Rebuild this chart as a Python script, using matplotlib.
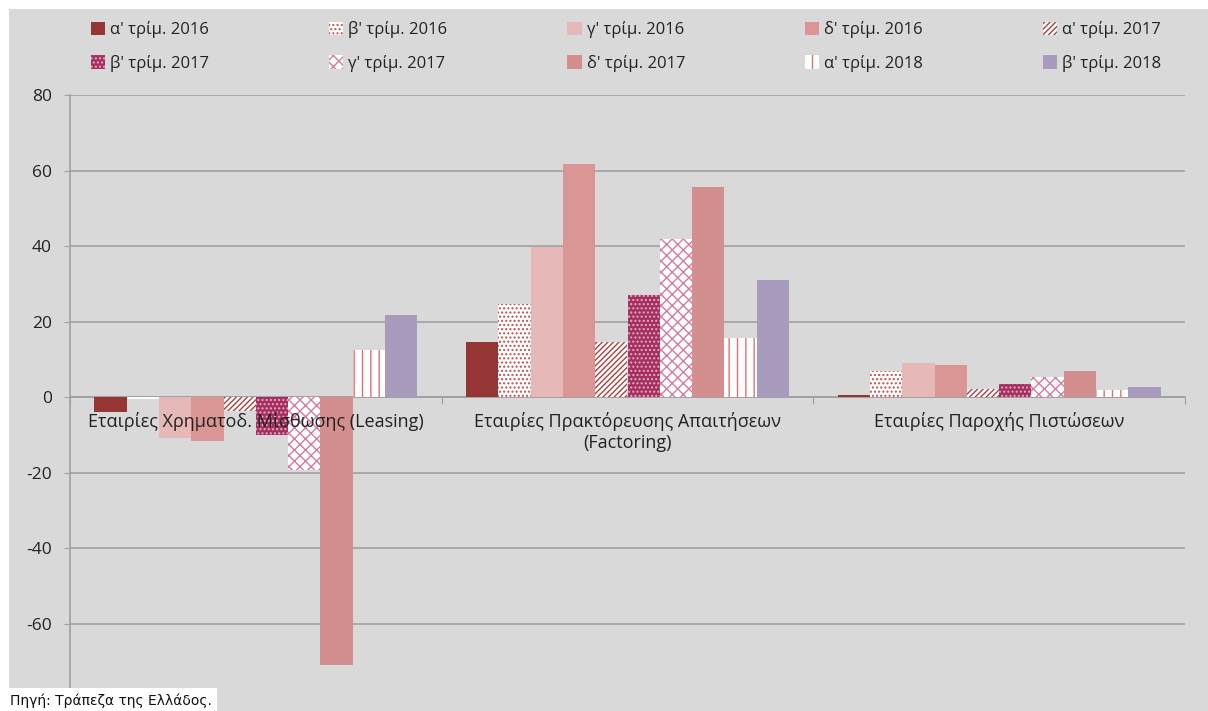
import matplotlib
matplotlib.use("Agg")
import matplotlib.pyplot as plt
from matplotlib.patches import Rectangle, Patch
import numpy as np

plt.rcParams['font.family'] = ['Open Sans', 'DejaVu Sans']
plt.rcParams['hatch.linewidth'] = 1.0

categories = ["Εταιρίες Χρηματοδ. Μίσθωσης (Leasing)",
              "Εταιρίες Πρακτόρευσης Απαιτήσεων\n(Factoring)",
              "Εταιρίες Παροχής Πιστώσεων"]

series_labels = ["α' τρίμ. 2016", "β' τρίμ. 2016", "γ' τρίμ. 2016", "δ' τρίμ. 2016",
                 "α' τρίμ. 2017", "β' τρίμ. 2017", "γ' τρίμ. 2017", "δ' τρίμ. 2017",
                 "α' τρίμ. 2018", "β' τρίμ. 2018"]

# values per series: [Leasing, Factoring, Credit]
q1_2016 = [-3.8, 14.5, 0.5]
q2_2016 = [-0.6, 24.6, 7.0]
q3_2016 = [-10.7, 39.8, 9.0]
q4_2016 = [-11.5, 61.7, 8.6]
q1_2017 = [-3.6, 14.5, 2.1]
q2_2017 = [-10.1, 27.0, 3.5]
q3_2017 = [-19.3, 41.8, 5.4]
q4_2017 = [-70.9, 55.7, 6.9]
q1_2018 = [12.4, 15.7, 2.0]
q2_2018 = [21.8, 31.1, 2.7]

series = [q1_2016, q2_2016, q3_2016, q4_2016, q1_2017,
          q2_2017, q3_2017, q4_2017, q1_2018, q2_2018]

yticks = [-60, -40, -20, 0, 20, 40, 60, 80]

# fill colour, hatch, hatch colour
styles = [
    ("#963634", None, None),
    ("#FFFFFF", "....", "#C0504D"),
    ("#E6B9B8", None, None),
    ("#DA9694", None, None),
    ("#FFFFFF", "//////", "#A8403E"),
    ("#A3305F", "....", "#E8A8C4"),
    ("#FFFFFF", "xxx", "#D27BA3"),
    ("#D38F8F", None, None),
    ("#FFFFFF", "||", "#E07070"),
    ("#A99BBD", None, None),
]

W, H = 1208, 711
fig = plt.figure(figsize=(W / 100, H / 100), dpi=100)
fig.patch.set_facecolor("white")
fig.add_artist(Rectangle((9 / W, 0), 1 - 9 / W, 1 - 9 / H, transform=fig.transFigure,
                         facecolor="#D9D9D9", edgecolor="none", zorder=0))

ax = fig.add_axes([70 / W, 1 - 690 / H, (1185 - 70) / W, (690 - 95) / H])
ax.set_facecolor("none")

n = len(series)
bar_w = 1.0 / (n + 1.5)
x = np.arange(len(categories))
handles = []
for i, (vals, (fc, hatch, hc), lab) in enumerate(zip(series, styles, series_labels)):
    pos = x - 0.5 + 0.75 * bar_w + (i + 0.5) * bar_w
    if hatch:
        ax.bar(pos, vals, width=bar_w, facecolor=fc, hatch=hatch, edgecolor=hc,
               linewidth=0, zorder=3)
        handles.append(Patch(facecolor=fc, hatch=hatch, edgecolor=hc, linewidth=0, label=lab))
    else:
        ax.bar(pos, vals, width=bar_w, color=fc, linewidth=0, zorder=3)
        handles.append(Patch(facecolor=fc, linewidth=0, label=lab))

ax.set_xlim(-0.5, len(categories) - 0.5)
ax.set_ylim(-77.5, 80)
ax.set_yticks(yticks)
ax.set_yticklabels([str(v) for v in yticks], fontsize=12.5, color="#222222")
ax.grid(axis="y", color="#A0A0A0", linewidth=1.2, zorder=1)
ax.tick_params(axis="y", length=4, color="#A0A0A0", pad=9)

for s in ["top", "right"]:
    ax.spines[s].set_visible(False)
ax.spines["left"].set_color("#A0A0A0")
ax.spines["left"].set_linewidth(1.2)
ax.spines["bottom"].set_position(("data", 0))
ax.spines["bottom"].set_color("#A0A0A0")
ax.spines["bottom"].set_linewidth(1.2)
ax.spines["bottom"].set_zorder(2)
ax.set_xticks(np.arange(len(categories) + 1) - 0.5)
ax.set_xticklabels([])
ax.tick_params(axis="x", length=5, color="#A0A0A0", direction="out")

for xi, cat in zip(x, categories):
    ax.text(xi, -3.8, cat, ha="center", va="top", fontsize=13, color="#222222",
            zorder=10, linespacing=1.25)

order = [0, 5, 1, 6, 2, 7, 3, 8, 4, 9]
leg = fig.legend([handles[k] for k in order], [series_labels[k] for k in order],
                 ncol=5, loc="upper left", bbox_to_anchor=(76 / W, 1 - 6 / H),
                 frameon=False, fontsize=12, handlelength=0.85, handleheight=0.85,
                 handletextpad=0.3, columnspacing=7.2, labelspacing=1.0)
for t in leg.get_texts():
    t.set_color("#222222")

fig.text(10 / W, 3 / H, "Πηγή: Τράπεζα της Ελλάδος.", fontsize=10,
         family=["DejaVu Sans"], color="#111111", va="bottom", ha="left",
         bbox=dict(facecolor="white", edgecolor="none", pad=4))

fig.savefig("out.png", dpi=100)
